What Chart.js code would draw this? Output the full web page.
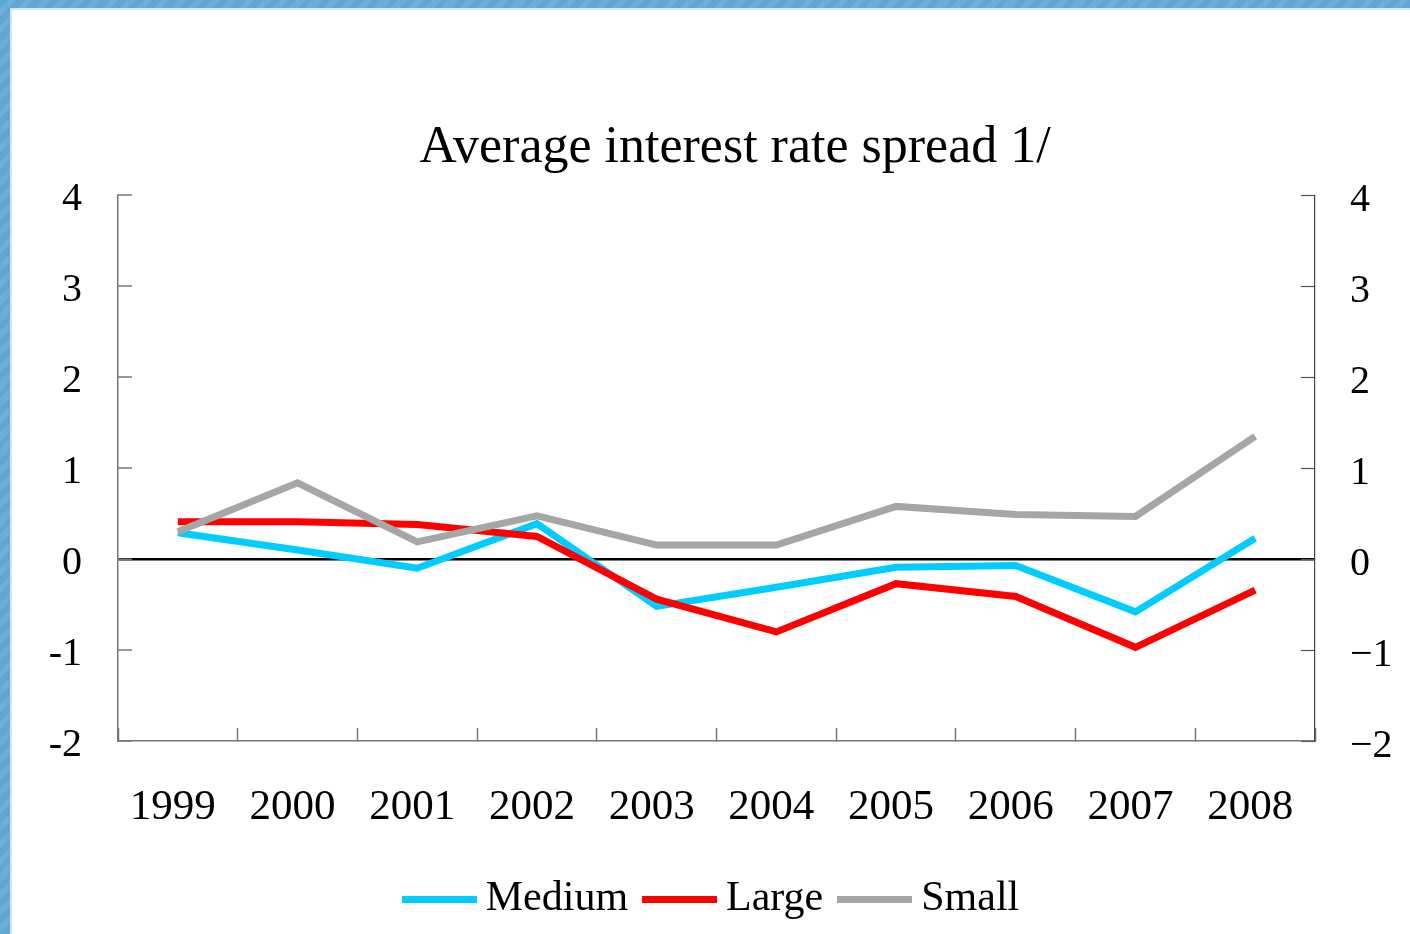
<!DOCTYPE html>
<html>
<head>
<meta charset="utf-8">
<script src="https://cdn.jsdelivr.net/npm/chart.js@4.4.1/dist/chart.umd.min.js"></script>
<style>
  html, body { margin: 0; padding: 0; width: 1410px; height: 934px; overflow: hidden; }
  body {
    background: repeating-linear-gradient(135deg, #62a6d5 0px, #62a6d5 6px, #6dadda 6px, #6dadda 12px);
  }
  #frame {
    position: absolute; left: 10px; top: 8px; right: 0; bottom: 0;
    background: #ffffff;
    border-left: 2px solid #cfe6f6;
    border-top: 2px solid #cfe6f6;
  }
  #wrap { position: absolute; left: 0; top: 0; width: 1398px; height: 924px; }
</style>
</head>
<body>
<div id="frame"><div id="wrap"><canvas id="chart" width="1398" height="924"></canvas></div></div>
<script>
// Years on the horizontal axis
const years = ['1999', '2000', '2001', '2002', '2003', '2004', '2005', '2006', '2007', '2008'];

// Average interest rate spread by bank size (percentage points)
const mediumBanks = [0.29, 0.10, -0.10, 0.39, -0.52, -0.31, -0.09, -0.07, -0.58, 0.23];
const largeBanks  = [0.41, 0.41, 0.38, 0.25, -0.44, -0.80, -0.27, -0.41, -0.97, -0.34];
const smallBanks  = [0.30, 0.84, 0.19, 0.475, 0.155, 0.155, 0.58, 0.49, 0.47, 1.35];

// Vertical axis range
const yMin = -2;
const yMax = 4;

const serif = '"Liberation Serif", "Times New Roman", serif';
const LINE_W = 7;

// Legend swatch: a short thick line segment in the series colour
function swatch(color) {
  const c = document.createElement('canvas');
  c.width = 75;
  c.height = LINE_W;
  const g = c.getContext('2d');
  g.fillStyle = color;
  g.fillRect(0, 0, c.width, c.height);
  return c;
}

function series(label, data, color, order) {
  return {
    label: label,
    data: data,
    borderColor: color,
    backgroundColor: color,
    borderWidth: LINE_W,
    pointRadius: 0,
    pointHoverRadius: 0,
    pointStyle: swatch(color),
    order: order
  };
}

// Centre the title a little to the right of the canvas middle,
// over the plot rather than over the whole frame.
const titleNudge = {
  id: 'titleNudge',
  afterLayout(chart) {
    if (chart.titleBlock) {
      chart.titleBlock.left += 48;
    }
  }
};

new Chart(document.getElementById('chart'), {
  type: 'line',
  data: {
    labels: years,
    datasets: [
      series('Medium', mediumBanks, '#00ccff', 3),
      series('Large', largeBanks, '#ff0000', 2),
      series('Small', smallBanks, '#a6a6a6', 1)
    ]
  },
  plugins: [titleNudge],
  options: {
    responsive: false,
    animation: false,
    events: [],
    layout: { padding: { left: 0, right: 0, top: 0, bottom: 4 } },
    elements: {
      line: { tension: 0, borderCapStyle: 'butt', borderJoinStyle: 'miter' }
    },
    plugins: {
      title: {
        display: true,
        text: 'Average interest rate spread 1/',
        color: '#000',
        font: { family: serif, size: 52, weight: 'normal', lineHeight: 1.2 },
        padding: { top: 107, bottom: 16 }
      },
      legend: {
        position: 'bottom',
        fullSize: false,
        labels: {
          usePointStyle: true,
          pointStyleWidth: 51,
          padding: 26,
          color: '#000',
          font: { family: serif, size: 42 },
          sort: (a, b) => a.datasetIndex - b.datasetIndex
        }
      },
      tooltip: { enabled: false }
    },
    scales: {
      x: {
        type: 'category',
        offset: true,
        grid: {
          offset: true,
          drawOnChartArea: false,
          tickLength: -13,
          tickColor: '#767676',
          tickWidth: 1.5
        },
        border: { display: true, color: '#767676', width: 1.5 },
        ticks: {
          color: '#000',
          padding: 54,
          labelOffset: -5,
          maxRotation: 0,
          autoSkip: false,
          font: { family: serif, size: 43 }
        },
        afterFit: (scale) => { scale.height = 111; }
      },
      y: {
        position: 'left',
        min: yMin,
        max: yMax,
        grid: {
          drawOnChartArea: true,
          tickLength: -14,
          tickColor: '#767676',
          tickWidth: 1.5,
          color: (ctx) => (ctx.tick && ctx.tick.value === 0 ? '#000000' : 'rgba(0,0,0,0)'),
          lineWidth: (ctx) => (ctx.tick && ctx.tick.value === 0 ? 2.5 : 0)
        },
        border: { display: true, color: '#767676', width: 1.5 },
        ticks: {
          stepSize: 1,
          color: '#000',
          padding: 50,
          labelOffset: 4,
          font: { family: serif, size: 40 },
          callback: (v) => String(v)
        },
        afterFit: (scale) => { scale.width = 106; }
      },
      yRight: {
        position: 'right',
        min: yMin,
        max: yMax,
        grid: {
          drawOnChartArea: false,
          tickLength: -14,
          tickColor: '#555555',
          tickWidth: 1.2
        },
        border: { display: true, color: '#444444', width: 1.2 },
        ticks: {
          stepSize: 1,
          color: '#000',
          padding: 49,
          labelOffset: 5,
          font: { family: serif, size: 40 },
          callback: (v) => (v < 0 ? '\u2212' + Math.abs(v) : String(v))
        },
        afterFit: (scale) => { scale.width = 95; }
      }
    }
  }
});
</script>
</body>
</html>
